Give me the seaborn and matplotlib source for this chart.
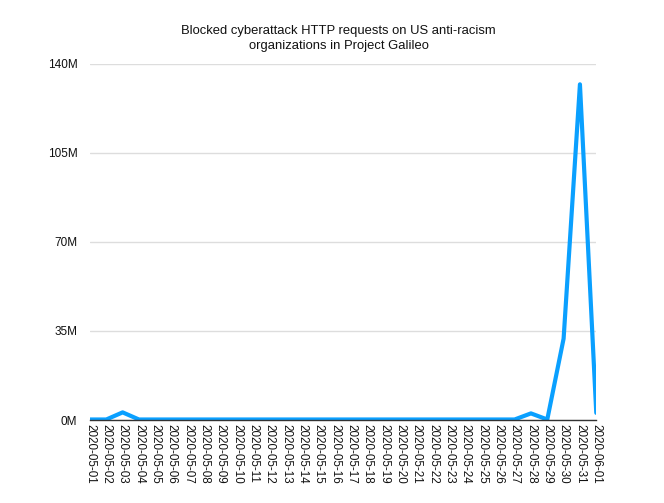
import matplotlib
matplotlib.use("Agg")
import matplotlib.pyplot as plt
import seaborn as sns
import pandas as pd
import numpy as np

dates = pd.date_range("2020-05-01", "2020-06-01", freq="D").strftime("%Y-%m-%d").tolist()
requests_m = [0.2, 0.2, 3.0, 0.2, 0.2, 0.2, 0.2, 0.2, 0.2, 0.2,
              0.2, 0.2, 0.2, 0.2, 0.2, 0.2, 0.2, 0.2, 0.2, 0.2,
              0.2, 0.2, 0.2, 0.2, 0.2, 0.2, 0.2, 2.6, 0.2, 32.0,
              132.0, 2.8]
yticks = [0, 35, 70, 105, 140]
ytick_labels = ["0M", "35M", "70M", "105M", "140M"]
title = "Blocked cyberattack HTTP requests on US anti-racism\norganizations in Project Galileo"

sns.set_theme(style="white")
plt.rcParams["font.family"] = ["Liberation Sans", "DejaVu Sans"]

df = pd.DataFrame({"date": dates, "value": requests_m, "idx": np.arange(len(dates))})

fig = plt.figure(figsize=(6.64, 5.03), dpi=100)
ax = fig.add_axes([0.1355, 0.165, 0.7625, 0.7078])
sns.lineplot(data=df, x="idx", y="value", ax=ax, color="#0AA0FF", linewidth=3.0)

ax.set_xlim(0, len(dates) - 1)
ax.set_ylim(0, 140)
ax.set_yticks(yticks)
ax.set_yticklabels(ytick_labels, fontsize=8.5, color="#111111")
ax.set_xticks(df["idx"])
ax.set_xticklabels(dates, rotation=-90, fontsize=8.4, color="#111111")
ax.tick_params(axis="y", length=0, pad=9)
ax.tick_params(axis="x", length=0, pad=3)
ax.grid(axis="y", color="#DDDDDD", linewidth=1)
ax.set_axisbelow(True)
for s in ["top", "right", "left"]:
    ax.spines[s].set_visible(False)
ax.spines["bottom"].set_color("#333333")
ax.spines["bottom"].set_linewidth(1)
ax.set_xlabel("")
ax.set_ylabel("")
fig.text(0.51, 1 - 38.5 / 503, title, ha="center", va="center",
         fontsize=9.4, linespacing=1.25, color="#111111")

fig.savefig("out.png", dpi=100)
